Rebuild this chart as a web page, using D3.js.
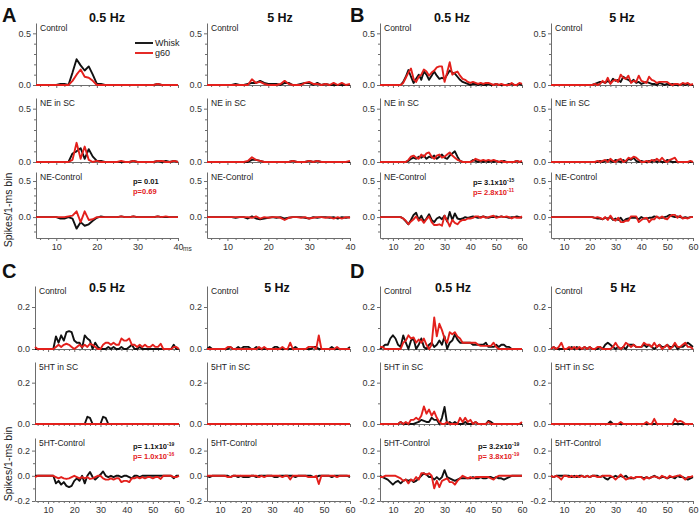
<!DOCTYPE html>
<html><head><meta charset="utf-8">
<script src="https://cdn.jsdelivr.net/npm/d3@7"></script>
<style>body{margin:0;background:#fff} svg{display:block;font-family:Arial,'Liberation Sans',sans-serif}</style>
</head><body><svg id="c" width="700" height="514"></svg>
<script>
// ---------- DATA (1-ms bins; A starts at 5 ms and ends at 40 ms, B-D start at 5 ms and end at 60 ms) ----------
const series = ["Whisk", "g60"];
const rowLabelsNE = ["Control", "NE in SC", "NE-Control"];
const rowLabels5HT = ["Control", "5HT in SC", "5HT-Control"];
const freqTitles = ["0.5 Hz", "5 Hz"];
const ticksA = [10, 20, 30, 40];
const ticksBCD = [10, 20, 30, 40, 50, 60];

// Panel A, 0.5 Hz (5..40 ms)
const A05_ctl_w = [0,0,0,0,0, 0,0.01,0.01,0,0.12,0.25,0.19,0.14,0.18,0.1, 0.01,0.01,0,0,0,0,0,0,0,0, 0,0,0,0,0,0.01,0,0,0,0, 0];
const A05_ctl_g = [0,0,0,0,0, 0,0,0,0,0.04,0.1,0.15,0.08,0.07,0.04, 0,0,0,0,0,0,0,0,0,0, 0,0,0,0,0,0.01,0,0,0,0, 0];
const A05_ne_w  = [0,0,0,0,0, 0,0,0,0,0.08,0.1,0.13,0.03,0.12,0.05, 0.01,0.01,0,0,0,0,0,0,0,0.01, 0,0,0,0,0,0.01,0,0.01,0,0.01, 0];
const A05_ne_g  = [0,0,0,0,0, 0,0,0,0,0.02,0.18,0.03,0.145,0.02,0, 0.01,0,0,0,0,0,0.01,0,0,0.01, 0,0,0,0,0,0.01,0.01,0,0,0.01, 0];
const A05_dif_w = [0,0,0,0,0, 0,-0.02,-0.02,0,-0.02,-0.16,-0.07,-0.12,-0.1,-0.05, -0.01,0.01,0,0,0,0,0.01,0,0,0.01, 0,0,0,0,0,0.01,0,0,0,0, 0];
const A05_dif_g = [0,0,0,0,0, 0,0,0,0.01,0.02,0.08,-0.07,0.08,-0.04,-0.03, 0,0,0,0,0,0,0.01,0,0,0.01, 0,0,0,0,0,0.01,0,0.01,0,0, 0];
// Panel A, 5 Hz
const A5_ctl_w = [0,0,0,0,0, 0,0,0.01,0,0,0.01,0.02,0.02,0.04,0.02, 0.01,0.01,0.01,0,0.02,0.02,0,0,0.01,0.02, 0.02,0,0.02,0,0.01,0,0,0,0,0, 0];
const A5_ctl_g = [0,0,0,0,0, 0,0,0,0,0,0,0.055,0.02,0.03,0.01, 0,0,0,0.01,0.04,0.01,0,0,0,0.02, 0.03,0.01,0.01,0,0.01,0,0.02,0,0.02,0, 0.01];
const A5_ne_w  = [0,0,0,0,0, 0,0,0,0,0,0,0.02,0.02,0.01,0, 0,0,0,0,0,0,0.01,0,0,0, 0.01,0,0.01,0,0,0,0,0,0,0, 0];
const A5_ne_g  = [0,0,0,0,0, 0,0,0,0,0,0.01,0.045,0.02,0.01,0, 0,0,0,0,0,0,0.01,0,0,0, 0.01,0,0.01,0,0,0,0,0,0,0, 0.01];
const A5_dif_w = [0,0,0,0,0, 0,0,-0.01,0,0,-0.02,0.01,-0.02,-0.03,-0.02, -0.01,0,-0.01,0,-0.02,-0.01,0,0,0,-0.01, -0.02,0,-0.01,0,0,-0.01,0,-0.02,0,-0.01, 0];
const A5_dif_g = [0,0,0,0,0, 0,0,0,0,0,0,-0.01,0.01,-0.02,0, -0.01,0,0,-0.01,-0.04,-0.01,0,0,-0.01,0, -0.02,-0.01,0,0,-0.01,0,-0.02,0,-0.02,0, -0.01];

// Panel B, 0.5 Hz (5..60 ms)
const B05_ctl_w = [0,0,0,0,0, 0,0,0,0,0.03,0.08,0.145,0.08,0.02,0.06, 0.1,0.05,0.13,0.1,0.05,0.09,0.13,0.09,0.06,0.07, 0.06,0.1,0.14,0.12,0.11,0.08,0.05,0.03,0.02,0.01, 0,0.01,0.01,0,0.01,0,0,0.01,0,0, 0.01,0,0,0,0,0.01,0.01,0,0,0.01, 0];
const B05_ctl_g = [0,0,0,0,0, 0,0,0,0,0.02,0.07,0.12,0.16,0.06,0.03, 0.08,0.1,0.15,0.13,0.09,0.12,0.14,0.17,0.18,0.18, 0.03,0.12,0.22,0.1,0.12,0.13,0.09,0.06,0.05,0.03, 0.02,0.03,0.02,0.01,0.02,0.01,0.02,0.02,0.01,0, 0.01,0,0.01,0,0,0,0.02,0,0,0.02, 0.01];
const B05_ne_w  = [0,0,0,0,0, 0,0,0,0,0,0,0.01,0.03,0.04,0.03, 0.05,0.04,0.06,0.03,0.05,0.04,0.06,0.03,0.05,0.07, 0.04,0.03,0.06,0.08,0.1,0.05,0.01,0,0,0, 0,0.02,0.01,0,0.01,0,0.01,0,0.01,0, 0.01,0,0,0.01,0,0,0,0,0.01,0, 0];
const B05_ne_g  = [0,0,0,0,0, 0,0,0,0,0,0,0.02,0.05,0.06,0.04, 0.03,0.07,0.05,0.08,0.09,0.05,0.03,0.06,0.07,0.04, 0.05,0.07,0.09,0.06,0.04,0.02,0.01,0,0,0, 0,0.01,0.03,0.02,0.01,0.02,0.01,0.02,0.01,0.02, 0.01,0,0.01,0,0,0,0,0,0.01,0, 0.01];
const B05_dif_w = [0,0,0,0,0, 0,0,0,0,-0.02,-0.06,-0.1,-0.04,0.03,0.06, -0.04,0.02,-0.06,-0.02,0.04,-0.04,-0.07,-0.02,0,-0.03, 0.02,-0.06,0.07,-0.04,0.05,-0.02,-0.03,-0.02,0,-0.01, 0,0.01,0,-0.01,0,0.01,0,-0.01,0,0, 0.01,0,0.01,0,0,-0.01,0,0,0.01,0, -0.01];
const B05_dif_g = [0,0,0,0,0, 0,0,0,0,-0.02,-0.05,-0.1,-0.06,-0.03,0.01, -0.05,-0.03,-0.08,-0.03,0.01,-0.07,-0.11,-0.11,-0.1,-0.12, 0.02,-0.05,-0.13,-0.04,-0.08,-0.1,-0.06,-0.04,-0.04,-0.02, -0.02,-0.01,0.01,0.01,-0.01,0.01,-0.01,0,0.01,0.02, -0.01,0,0.01,0,0.01,0,-0.02,0,-0.01,-0.01, 0.01];
// Panel B, 5 Hz
const B5_ctl_w = [0,0,0,0,0, 0,0,0,0,0,0,0,0,0,0, 0,0,0.01,0.02,0.03,0.03,0.02,0.04,0.02,0.06, 0.04,0.05,0.03,0.08,0.06,0.05,0.03,0.05,0.02,0.03, 0.01,0.02,0.03,0.02,0.01,0.01,0,0.02,0.01,0, 0.01,0,0.01,0,0,0,0.01,0,0.01,0, 0];
const B5_ctl_g = [0,0,0,0,0, 0,0,0,0,0,0,0,0,0,0, 0,0,0.01,0,0.01,0.04,0.02,0.07,0.01,0.04, 0.05,0.03,0.1,0.07,0.06,0.09,0.02,0.04,0.03,0.09, 0.04,0.03,0.02,0.08,0.05,0.04,0.02,0.03,0.03,0.03, 0.03,0.01,0,0.01,0.01,0,0.02,0.01,0.02,0, 0.01];
const B5_ne_w  = [0,0,0,0,0, 0,0,0,0,0,0,0,0,0,0, 0,0,0,0,0.01,0,0.01,0.02,0.01,0, 0.02,0.01,0,0.02,0,0.03,0.02,0.04,0.01,0, 0.01,0,0,0.01,0,0.02,0,0.01,0,0, 0.02,0.01,0,0,0,0,0,0,0,0, 0];
const B5_ne_g  = [0,0,0,0,0, 0,0,0,0,0,0,0,0,0,0, 0,0,0,0.01,0,0.01,0.02,0,0.03,0.01, 0,0.02,0.03,0,0.01,0.04,0.03,0.05,0.04,0.02, 0,0,0.01,0,0.02,0.01,0.03,0.01,0.04,0.01, 0,0.02,0.03,0.04,0,0,0,0,0,0.01, 0];
const B5_dif_w = [0,0,0,0,0, 0,0,0,0,0,0,0,0,0,0, 0,0,-0.01,-0.02,-0.02,-0.03,-0.01,-0.02,0,-0.04, -0.02,-0.04,-0.01,-0.06,-0.03,-0.02,-0.01,-0.01,-0.01,-0.03, 0,-0.02,-0.02,-0.01,-0.01,0.01,0,-0.01,-0.01,0, 0.01,0.03,0.01,0,0.01,0,-0.01,0,-0.01,0, 0];
const B5_dif_g = [0,0,0,0,0, 0,0,0,0,0,0,0,0,0,0, 0,0,-0.01,0,-0.01,-0.03,0,-0.04,0.02,-0.03, -0.05,-0.01,-0.07,-0.07,-0.05,-0.05,0.01,0.01,0.01,-0.07, -0.04,-0.02,-0.01,-0.07,-0.03,-0.03,0.01,-0.02,0.01,-0.02, -0.03,0.01,0.03,0.03,-0.01,0.02,-0.02,-0.01,-0.02,0, 0];

// Panel C, 0.5 Hz
const C05_ctl_w = [0,0,0,0,0, 0,0,0,0.06,0.03,0.065,0.04,0.08,0.085,0.08, 0.04,0.03,0.03,0.005,0.065,0.05,0.04,0,0.03,0.01, 0,0,0,0.01,0,0.01,0,0,0.01,0, 0,0.01,0.02,0,0,0.01,0,0,0,0, 0,0,0,0,0,0,0,0,0.02,0, 0];
const C05_ctl_g = [0.01,0,0,0,0, 0,0,0,0.01,0.02,0.01,0.02,0.025,0.02,0.01, 0,0.01,0.02,0.01,0.02,0.01,0.025,0.02,0.01,0, 0,0.02,0.03,0.03,0.02,0.03,0.02,0.02,0.05,0.04, 0.04,0.05,0.02,0.02,0.01,0.02,0.01,0.02,0.01,0.01, 0.02,0.01,0.01,0.025,0,0,0,0,0.01,0.01, 0];
const C05_ne_w  = [0,0,0,0,0, 0,0,0,0,0,0,0,0,0,0, 0,0,0,0,0,0.035,0.03,0,0,0, 0,0.035,0.03,0,0,0,0,0,0,0, 0,0,0,0,0,0,0,0,0,0, 0,0,0,0,0,0,0,0,0,0, 0];
const C05_ne_g  = [0,0,0,0,0, 0,0,0,0,0,0,0,0,0,0, 0,0,0,0,0,0,0,0,0,0, 0,0,0,0,0,0,0,0,0,0, 0,0,0,0,0,0,0,0,0,0, 0,0,0,0,0,0,0,0,0,0, 0];
const C05_dif_w = [0,0,0,0,0, 0,0,0,-0.06,-0.04,-0.07,-0.05,-0.08,-0.09,-0.08, -0.04,-0.02,-0.04,0,-0.06,0,0.03,-0.01,-0.03,-0.01, 0.01,0.035,0,-0.01,0,-0.01,0,0,-0.01,0, 0,-0.01,-0.02,0,0,-0.01,0,0,0,0, 0,0,0,0,0,0,0,0,-0.02,0, 0];
const C05_dif_g = [-0.01,0,0,0,0, 0,0,0,-0.01,-0.02,-0.01,-0.02,-0.025,-0.02,-0.01, 0,-0.01,-0.02,-0.01,-0.02,-0.01,-0.025,-0.02,-0.01,0, 0,-0.02,-0.03,-0.03,-0.02,-0.03,-0.02,-0.02,-0.05,-0.04, -0.04,-0.05,-0.02,-0.02,-0.01,-0.02,-0.01,-0.02,-0.01,-0.01, -0.02,-0.01,-0.01,-0.025,0,0,0,0,-0.01,-0.01, 0];
// Panel C, 5 Hz
const C5_ctl_w = [0,0.01,0,0,0, 0,0,0,0,0.01,0,0,0.01,0,0.01, 0.01,0.01,0,0,0.01,0,0,0,0,0, 0,0.01,0.01,0,0,0,0,0,0,0.01, 0,0,0,0,0,0,0.01,0.01,0,0, 0,0,0,0.01,0,0,0,0,0,0, 0.01];
const C5_ctl_g = [0,0,0,0,0, 0,0,0,0.01,0.01,0,0,0,0,0, 0,0,0,0,0,0.01,0,0.01,0,0, 0,0,0,0,0.01,0,0,0.03,0,0, 0,0,0,0,0.01,0.01,0.01,0,0.065,0, 0,0,0,0,0,0.01,0,0,0,0, 0];
const C5_ne_w  = [0,0,0,0,0, 0,0,0,0,0,0,0,0,0,0, 0,0,0,0,0,0,0,0,0,0, 0,0,0,0,0,0,0,0,0,0, 0,0,0,0,0,0,0,0,0,0, 0,0,0,0,0,0,0,0,0,0, 0];
const C5_ne_g  = [0,0,0,0,0, 0,0,0,0,0,0,0,0,0,0, 0,0,0,0,0,0,0,0,0,0, 0,0,0,0,0,0,0,0,0,0, 0,0,0,0,0,0,0,0,0,0, 0,0,0,0,0,0,0,0,0,0, 0];
const C5_dif_w = [0,-0.01,0,0,0, 0,0,0,0,-0.01,0,0,-0.01,0,-0.01, -0.01,-0.01,0,0,-0.01,0,0,0,0,0, 0,-0.01,-0.01,0,0,0,0,0,0,-0.01, 0,0,0,0,0,0,-0.01,-0.01,0,0, 0,0,0,-0.01,0,0,0,0,0,0, -0.01];
const C5_dif_g = [0,0,0,0,0, 0,0,0,-0.01,-0.01,0,0,0,0,0, 0,0,0,0,0,-0.01,0,-0.01,0,0, 0,0,0,0,-0.01,0,0,-0.03,0,0, 0,0,0,0,-0.01,-0.01,-0.01,0,-0.065,0, 0,0,0,0,0,-0.01,0,0,0,0, 0];

// Panel D, 0.5 Hz
const D05_ctl_w = [0,0.01,0.02,0.02,0.05, 0.065,0.05,0.02,0.01,0.065,0.03,0,0.04,0.05,0, 0.02,0.05,0.01,0,0.02,0.03,0.01,0.02,0.04,0.02, 0.06,0,0.03,0.04,0.07,0.045,0.03,0.03,0.03,0.03, 0.03,0.02,0.02,0.02,0.02,0.02,0.03,0.01,0.01,0.01, 0.02,0.01,0.02,0.02,0.01,0.01,0,0,0,0, 0];
const D05_ctl_g = [0.01,0.01,0,0,0, 0,0,0,0,0.03,0.04,0.065,0.05,0.055,0.03, 0.045,0.03,0.05,0.02,0,0.02,0.15,0.06,0.12,0.09, 0.05,0.03,0.08,0.07,0.08,0.06,0.05,0.03,0.03,0.03, 0.03,0.03,0.03,0.02,0.015,0.015,0.015,0.015,0.015,0.03, 0.01,0,0,0,0,0,0,0,0,0, 0];
const D05_ne_w  = [0,0,0,0,0, 0,0,0,0.01,0,0,0,0,0,0.005, 0.01,0.02,0.015,0.01,0.01,0.03,0.02,0.02,0,0.03, 0.083,0,0.01,0,0.01,0,0,0,0.01,0, 0,0,0.01,0,0,0,0,0.015,0.01,0, 0,0,0,0,0,0,0,0,0,0, 0];
const D05_ne_g  = [0,0,0,0,0, 0,0,0,0.01,0,0.01,0,0.02,0.02,0.03, 0.02,0.04,0.085,0.05,0.07,0.04,0.06,0.03,0.01,0, 0,0.01,0,0,0,0,0.03,0.01,0.03,0.01, 0.02,0,0.01,0,0,0,0,0.01,0,0, 0,0,0,0,0,0,0,0,0,0, 0.01];
const D05_dif_w = [0,-0.01,-0.02,-0.03,-0.05, -0.07,-0.05,-0.04,-0.06,-0.04,-0.03,-0.04,-0.03,-0.05,-0.04, -0.02,0,0.02,0.01,-0.01,-0.01,-0.03,-0.01,-0.03,-0.01, 0.045,-0.01,-0.02,-0.03,-0.04,-0.03,-0.02,-0.02,-0.02,-0.02, -0.02,-0.01,-0.02,-0.02,-0.01,-0.02,-0.02,-0.01,-0.01,-0.02, -0.01,-0.02,-0.02,-0.03,-0.02,-0.01,0,0,0,0, 0];
const D05_dif_g = [-0.01,-0.01,0,0,0, 0,0,-0.01,-0.02,-0.04,-0.03,-0.06,-0.03,-0.04,-0.01, -0.03,0.02,0.02,0.01,0.02,0,-0.1,-0.04,-0.09,-0.04, -0.03,-0.02,-0.05,-0.05,-0.07,-0.04,-0.02,0,-0.01,-0.02, -0.01,-0.02,-0.01,-0.01,-0.01,-0.01,-0.01,-0.01,-0.02,-0.03, -0.01,0,0,0,0,0,0,0,0,0, 0];
// Panel D, 5 Hz
const D5_ctl_w = [0,0.01,0,0,0, 0,0,0,0.01,0,0.01,0,0,0.01,0, 0.01,0,0,0,0.01,0,0.02,0.03,0.02,0.01, 0,0.01,0,0.01,0,0.02,0.02,0.02,0.01,0.01, 0.01,0.02,0.01,0.02,0.01,0,0.01,0.02,0.01,0.01, 0.02,0.01,0.01,0.02,0,0.01,0.01,0.02,0.03,0.02, 0.01];
const D5_ctl_g = [0,0.01,0,0.01,0.03, 0,0,0.01,0,0.01,0,0.01,0,0.01,0, 0.01,0,0,0.01,0.01,0,0,0,0,0.01, 0.03,0.01,0,0.01,0.03,0.02,0.01,0.02,0.01,0.01, 0.01,0.03,0.02,0.02,0.01,0.03,0.01,0.02,0,0.01, 0.02,0,0.01,0.03,0.01,0.01,0.02,0.03,0.01,0.01, 0];
const D5_ne_w  = [0,0,0,0,0, 0,0,0,0,0,0,0,0,0,0, 0,0,0,0,0,0,0,0,0.012,0, 0,0,0,0,0,0,0,0,0,0, 0,0,0,0,0,0,0,0,0,0, 0,0,0,0,0,0,0,0,0,0, 0];
const D5_ne_g  = [0,0,0,0,0, 0,0,0,0,0,0,0,0,0,0, 0,0,0,0,0,0,0,0,0,0, 0,0,0.01,0,0,0,0,0,0,0, 0,0,0.01,0,0,0.025,0,0,0,0, 0,0,0,0.025,0.01,0.015,0.01,0,0,0, 0];
const D5_dif_w = [0,-0.01,0,0,0, 0,0,0,-0.01,0,-0.01,0,0,-0.01,0, -0.01,0,0,0,-0.01,0,-0.02,-0.03,-0.01,-0.01, 0,-0.01,0,-0.01,0,-0.02,-0.02,-0.02,-0.01,-0.01, -0.01,-0.02,-0.01,-0.02,-0.01,0,-0.01,-0.02,-0.01,-0.01, -0.02,-0.01,-0.01,-0.02,0,-0.01,-0.01,-0.02,-0.03,-0.02, -0.01];
const D5_dif_g = [0,-0.01,0,-0.01,-0.03, 0,0,-0.01,0,-0.01,0,-0.01,0,-0.01,0, -0.01,0,0,-0.01,-0.01,0,0,0,0,-0.01, -0.03,-0.01,0.01,-0.01,-0.03,-0.02,-0.01,-0.02,-0.01,-0.01, -0.01,-0.03,-0.01,-0.02,-0.01,-0.005,-0.01,-0.02,0,-0.01, -0.02,0,-0.01,-0.005,0,0.005,-0.01,-0.03,-0.01,-0.01, 0];

// p-values (black = Whisk, red = g60): [mantissa text, exponent]
const pA = [["p= 0.01", null], ["p=0.69", null]];
const pB = [["p= 3.1x10", "-15"], ["p= 2.8x10", "-11"]];
const pC = [["p= 1.1x10", "-19"], ["p= 1.0x10", "-16"]];
const pD = [["p= 3.2x10", "-19"], ["p= 3.8x10", "-19"]];

// ---------- DRAWING ----------
const BLACK = "#111", RED = "#e3201c", AX = "#6d6d6d", TXT = "#333";
const svg = d3.select("#c");

const topRows = [
  {range:[85,23], dom:[0,0.6], major:[0,0.5], minor:[0.1,0.2,0.3,0.4]},
  {range:[162,98], dom:[0,0.6], major:[0,0.5], minor:[0.1,0.2,0.3,0.4]},
  {range:[238,172], dom:[-0.29,0.625], major:[0,0.5], minor:[-0.2,-0.1,0.1,0.2,0.3,0.4], bottom:true}
];
const botRows = [
  {range:[349,286], dom:[0,0.3], major:[0,0.2], minor:[0.1]},
  {range:[424,362], dom:[0,0.3], major:[0,0.2], minor:[0.1]},
  {range:[501,438], dom:[-0.2,0.3], major:[-0.2,0,0.2], minor:[-0.1,0.1], bottom:true}
];

function drawPanel(p) {
  const g = svg.append("g");
  const x = d3.scaleLinear().domain([5, p.xmax]).range([p.x0, p.x1]);
  const xMinor = d3.range(6, p.xmax + 1, 2).filter(v => v % 10 !== 0);
  p.rows.forEach((r, ri) => {
    const y = d3.scaleLinear().domain(r.dom).range(r.range);
    const ya = g.append("g").attr("transform", `translate(${p.x0},0)`)
      .call(d3.axisLeft(y).tickValues(r.major).tickFormat(d => d.toFixed(1)).tickSize(3).tickSizeOuter(0).tickPadding(2));
    ya.selectAll("text").attr("font-size", 9).attr("fill", TXT).attr("font-family", "Arial,'Liberation Sans',sans-serif");
    g.append("g").attr("transform", `translate(${p.x0},0)`)
      .call(d3.axisLeft(y).tickValues(r.minor).tickFormat("").tickSize(2).tickSizeOuter(0))
      .call(s => s.select(".domain").remove());
    const yPos = r.bottom ? r.range[0] : y(0);
    const xa = g.append("g").attr("transform", `translate(0,${yPos})`)
      .call(d3.axisBottom(x).tickValues(p.ticks).tickFormat(r.bottom ? d3.format("d") : "").tickSize(3).tickSizeOuter(0).tickPadding(3));
    xa.selectAll("text").attr("font-size", 9).attr("fill", TXT).attr("font-family", "Arial,'Liberation Sans',sans-serif");
    g.append("g").attr("transform", `translate(0,${yPos})`)
      .call(d3.axisBottom(x).tickValues(xMinor).tickFormat("").tickSize(2).tickSizeOuter(0))
      .call(s => s.select(".domain").remove());
    if (r.bottom && p.ms) {
      g.append("text").attr("x", x(p.xmax) + 5).attr("y", yPos + 13).attr("font-size", 6.5).attr("fill", TXT).text("ms");
    }
    g.append("text").attr("x", p.x0 + 4).attr("y", r.range[1] + 8).attr("font-size", 8.5).attr("fill", "#222").text(p.labels[ri]);
    const line = d3.line().x((d, i) => x(5 + i)).y(d => y(d));
    const [w, gg] = p.data[ri];
    g.append("path").datum(w).attr("d", line).attr("fill", "none").attr("stroke", BLACK).attr("stroke-width", 1.9).attr("stroke-linejoin", "round");
    g.append("path").datum(gg).attr("d", line).attr("fill", "none").attr("stroke", RED).attr("stroke-width", 1.9).attr("stroke-linejoin", "round");
  });
  g.selectAll(".domain, .tick line").attr("stroke", AX);
  g.append("text").attr("x", p.tx).attr("y", p.ty).attr("text-anchor", "middle").attr("font-size", 12.5).attr("font-weight", "bold").attr("fill", "#111").text(p.title);
  if (p.letter) {
    g.append("text").attr("x", p.letter[1]).attr("y", p.letter[2]).attr("font-size", 20).attr("font-weight", "bold").attr("fill", "#111").text(p.letter[0]);
  }
  if (p.p) {
    [[p.p[0], BLACK, 0], [p.p[1], RED, 10]].forEach(([pv, col, dy]) => {
      const t = g.append("text").attr("x", p.px).attr("y", p.py + dy).attr("font-size", 7.5).attr("font-weight", "bold").attr("fill", col);
      t.append("tspan").text(pv[0]);
      if (pv[1]) t.append("tspan").attr("dy", -3.5).attr("font-size", 5).text(pv[1]);
    });
  }
}

drawPanel({x0:36, x1:178, xmax:40, ticks:ticksA, rows:topRows, labels:rowLabelsNE, ms:true,
  data:[[A05_ctl_w, A05_ctl_g],[A05_ne_w, A05_ne_g],[A05_dif_w, A05_dif_g]],
  title:freqTitles[0], tx:107, ty:22, letter:["A",2,22], p:pA, px:133, py:184});
drawPanel({x0:207, x1:350, xmax:40, ticks:ticksA, rows:topRows, labels:rowLabelsNE,
  data:[[A5_ctl_w, A5_ctl_g],[A5_ne_w, A5_ne_g],[A5_dif_w, A5_dif_g]],
  title:freqTitles[1], tx:280, ty:22});
drawPanel({x0:380, x1:522, xmax:60, ticks:ticksBCD, rows:topRows, labels:rowLabelsNE,
  data:[[B05_ctl_w, B05_ctl_g],[B05_ne_w, B05_ne_g],[B05_dif_w, B05_dif_g]],
  title:freqTitles[0], tx:452, ty:22, letter:["B",350,22], p:pB, px:473, py:185});
drawPanel({x0:551, x1:693, xmax:60, ticks:ticksBCD, rows:topRows, labels:rowLabelsNE,
  data:[[B5_ctl_w, B5_ctl_g],[B5_ne_w, B5_ne_g],[B5_dif_w, B5_dif_g]],
  title:freqTitles[1], tx:622, ty:22});
drawPanel({x0:35, x1:179, xmax:60, ticks:ticksBCD, rows:botRows, labels:rowLabels5HT,
  data:[[C05_ctl_w, C05_ctl_g],[C05_ne_w, C05_ne_g],[C05_dif_w, C05_dif_g]],
  title:freqTitles[0], tx:107, ty:292, letter:["C",2,278], p:pC, px:133, py:449});
drawPanel({x0:207, x1:350, xmax:60, ticks:ticksBCD, rows:botRows, labels:rowLabels5HT,
  data:[[C5_ctl_w, C5_ctl_g],[C5_ne_w, C5_ne_g],[C5_dif_w, C5_dif_g]],
  title:freqTitles[1], tx:277, ty:292});
drawPanel({x0:380, x1:522, xmax:60, ticks:ticksBCD, rows:botRows, labels:rowLabels5HT,
  data:[[D05_ctl_w, D05_ctl_g],[D05_ne_w, D05_ne_g],[D05_dif_w, D05_dif_g]],
  title:freqTitles[0], tx:453, ty:292, letter:["D",350,278], p:pD, px:478, py:449});
drawPanel({x0:551, x1:693, xmax:60, ticks:ticksBCD, rows:botRows, labels:rowLabels5HT,
  data:[[D5_ctl_w, D5_ctl_g],[D5_ne_w, D5_ne_g],[D5_dif_w, D5_dif_g]],
  title:freqTitles[1], tx:623, ty:292});

// legend (panel A)
const leg = svg.append("g");
[[series[0], BLACK, 43], [series[1], RED, 53]].forEach(([name, col, yy]) => {
  leg.append("line").attr("x1", 135).attr("x2", 153).attr("y1", yy).attr("y2", yy).attr("stroke", col).attr("stroke-width", 1.9);
  leg.append("text").attr("x", 155).attr("y", yy + 3).attr("font-size", 9).attr("fill", "#222").text(name);
});

// y-axis titles
[[210], [464]].forEach(([cy]) => {
  svg.append("text").attr("transform", `translate(12,${cy}) rotate(-90)`).attr("text-anchor", "middle")
    .attr("font-size", 10.5).attr("fill", "#222").text("Spikes/1-ms bin");
});
</script></body></html>
